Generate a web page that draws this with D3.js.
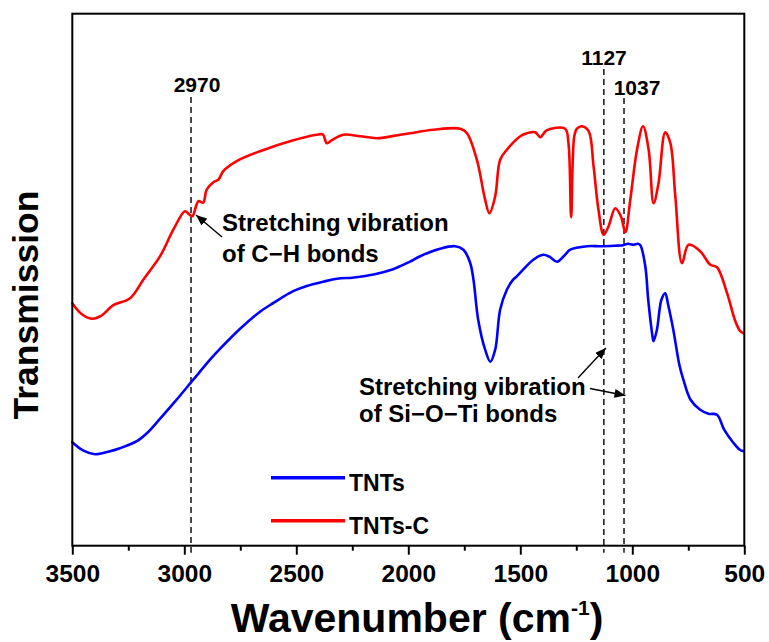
<!DOCTYPE html>
<html><head><meta charset="utf-8">
<script src="https://cdn.jsdelivr.net/npm/d3@7"></script>
<style>
body{margin:0;background:#fff;}
text{font-family:"Liberation Sans",Arial,Helvetica,sans-serif;font-weight:bold;fill:#000;}
</style>
</head><body>
<svg id="chart" width="769" height="642"></svg>
<script>
// ---------- data ----------
const tntsWavenumber = [3500,3450,3399,3340,3287,3212,3160,3108,3040,2960,2885,2840,2751,2662,2600,2514,2450,2380,2319,2250,2215,2150,2068,2036,1992,1947,1858,1791,1754,1724,1709,1688,1657,1634,1612,1590,1560,1532,1515,1442,1398,1370,1336,1300,1277,1202,1143,1080,1040,1020,996,975,964,942,929,912,905,890,870,853,840,817,790,772,740,697,660,622,590,549,520,503];
const tntsValue      = [20.7,19.0,18.3,18.8,19.5,20.9,22.8,25.4,28.9,33.2,37.2,39.4,43.4,46.8,48.6,50.9,52.0,52.8,53.4,53.6,53.8,54.3,55.3,55.9,56.8,57.9,59.4,59.9,59.2,56.6,53.2,45.2,39.2,36.8,39.2,47.2,51.2,53.2,53.9,57.2,58.2,57.8,56.8,58.2,59.2,59.9,59.9,60.0,60.1,60.4,60.2,60.4,60.1,55.9,49.2,42.6,40.9,43.2,49.2,50.5,48.2,43.2,36.2,33.2,29.2,27.2,26.4,26.2,23.2,20.6,19.2,18.9];

const tntscWavenumber = [3500,3460,3413,3370,3317,3242,3183,3108,3049,2997,2979,2964,2937,2916,2900,2870,2848,2826,2766,2662,2513,2394,2380,2364,2341,2290,2215,2140,2036,1992,1888,1768,1738,1694,1657,1638,1612,1590,1560,1500,1470,1433,1411,1381,1300,1285,1273,1259,1247,1225,1195,1173,1151,1128,1106,1076,1051,1031,1009,979,952,927,905,883,853,830,808,778,749,697,652,622,577,540,518,503];
const tntscValue      = [48.5,46.4,45.4,46.0,48.1,49.5,53.2,57.9,63.2,66.9,66.3,65.9,68.9,68.6,71.2,72.7,73.2,74.9,76.9,78.9,81.1,82.3,82.2,80.5,81.1,82.2,81.9,81.5,82.2,82.5,83.2,83.4,82.5,77.2,69.2,66.5,69.9,77.2,79.2,81.9,82.5,82.7,81.7,83.1,83.4,80.5,65.7,81.9,83.4,83.9,82.9,75.9,67.2,62.2,63.9,67.5,65.9,62.7,69.2,79.2,83.9,79.2,68.5,72.5,82.7,80.5,69.9,56.5,60.2,58.9,56.2,55.7,50.5,44.9,42.9,42.5];

const seriesNames = ["TNTs", "TNTs-C"];
const xTicks = [3500, 3000, 2500, 2000, 1500, 1000, 500];
const xMinorTicks = [3250, 2750, 2250, 1750, 1250, 750];
const markerWavenumbers = [2970, 1127, 1037];
const markerLabels = ["2970", "1127", "1037"];
const annotationCH = ["Stretching vibration", "of C\u2212H bonds"];
const annotationSiOTi = ["Stretching vibration", "of Si\u2212O\u2212Ti bonds"];
const xTitle = "Wavenumber (cm";
const xTitleSup = "-1";
const yTitle = "Transmission";

// ---------- layout ----------
const L = 72.3, R = 744.3, T = 13.7, B = 545.7;
const svg = d3.select("#chart");
const x = d3.scaleLinear().domain([3500, 500]).range([L, R]);
const y = d3.scaleLinear().domain([0, 106.4]).range([B, T]);

const defs = svg.append("defs");
defs.append("marker").attr("id", "arrow")
  .attr("viewBox", "0 0 11 9").attr("refX", 11).attr("refY", 4.5)
  .attr("markerUnits", "userSpaceOnUse").attr("markerWidth", 11).attr("markerHeight", 9)
  .attr("orient", "auto")
  .append("path").attr("d", "M0,0 L11,4.5 L0,9 Z").attr("fill", "#000");

// dashed marker lines
const markerTops = [97, 69, 98];
markerWavenumbers.forEach((w, i) => {
  svg.append("line").attr("x1", x(w)).attr("x2", x(w))
    .attr("y1", markerTops[i]).attr("y2", B + 7)
    .attr("stroke", "#000").attr("stroke-width", 1.4).attr("stroke-dasharray", "6,4");
});
const labelPos = [[197, 92], [604, 65], [637, 95]];
markerLabels.forEach((t, i) => {
  svg.append("text").attr("x", labelPos[i][0]).attr("y", labelPos[i][1])
    .attr("text-anchor", "middle").attr("font-size", 21).text(t);
});

// curves
const line = d3.line().x(d => x(d[0])).y(d => y(d[1])).curve(d3.curveCatmullRom.alpha(0.5));
const tnts = tntsWavenumber.map((w, i) => [w, tntsValue[i]]);
const tntsc = tntscWavenumber.map((w, i) => [w, tntscValue[i]]);
const colors = ["#0000ff", "#ff0000"];
[tnts, tntsc].forEach((d, i) => {
  svg.append("path").datum(d).attr("d", line).attr("fill", "none")
    .attr("stroke", colors[i]).attr("stroke-width", 2.6)
    .attr("stroke-linejoin", "round").attr("stroke-linecap", "round");
});

// axes
const gx = svg.append("g").attr("transform", `translate(0,${B})`)
  .call(d3.axisBottom(x).tickValues(xTicks).tickSize(9).tickPadding(10).tickFormat(d3.format("d")));
gx.select(".domain").remove();
gx.selectAll(".tick line").attr("stroke", "#000").attr("stroke-width", 2);
gx.selectAll(".tick text").attr("font-size", 24.5).attr("font-family", null).attr("fill", "#000");
const gm = svg.append("g").attr("transform", `translate(0,${B})`)
  .call(d3.axisBottom(x).tickValues(xMinorTicks).tickSize(5).tickFormat(""));
gm.select(".domain").remove();
gm.selectAll(".tick line").attr("stroke", "#000").attr("stroke-width", 2);

// frame
svg.append("rect").attr("x", L).attr("y", T).attr("width", R - L).attr("height", B - T)
  .attr("fill", "none").attr("stroke", "#000").attr("stroke-width", 2);

// axis titles
const xt = svg.append("text").attr("x", 417).attr("y", 632).attr("text-anchor", "middle").attr("font-size", 41);
xt.append("tspan").text(xTitle);
xt.append("tspan").attr("font-size", 21).attr("dy", -17).text(xTitleSup);
xt.append("tspan").attr("dy", 17).text(")");
svg.append("text").attr("transform", "translate(38,305) rotate(-90)")
  .attr("text-anchor", "middle").attr("font-size", 35.5).text(yTitle);

// annotations
function block(lines, x0, ys) {
  lines.forEach((t, i) => svg.append("text").attr("x", x0).attr("y", ys[i]).attr("font-size", 24).text(t));
}
block(annotationCH, 222, [231, 262]);
block(annotationSiOTi, 359, [395, 422]);
function arrow(x1, y1, x2, y2) {
  svg.append("line").attr("x1", x1).attr("y1", y1).attr("x2", x2).attr("y2", y2)
    .attr("stroke", "#000").attr("stroke-width", 1.4).attr("marker-end", "url(#arrow)");
}
arrow(222, 237, x(2970) + 5, 215);
arrow(578, 378, x(1127) + 2, 348);
arrow(590, 388.5, x(1037) + 1.5, 395.5);

// legend
const legY = [477.7, 520.7];
const legendOrder = [0, 1];
legendOrder.forEach((s, i) => {
  svg.append("line").attr("x1", 271).attr("x2", 345).attr("y1", legY[i]).attr("y2", legY[i])
    .attr("stroke", colors[s]).attr("stroke-width", 3.5);
  svg.append("text").attr("x", 349).attr("y", legY[i] + 13).attr("font-size", 23).text(seriesNames[s]);
});
</script>
</body></html>
